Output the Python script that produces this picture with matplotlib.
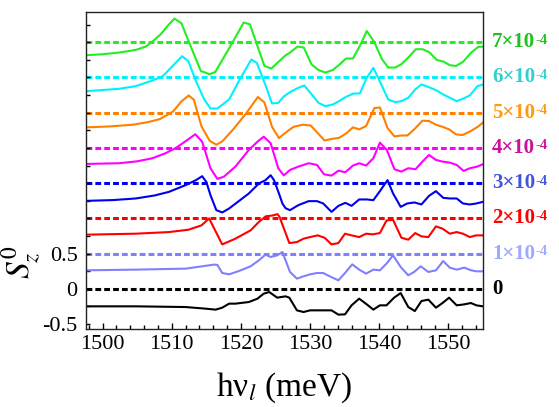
import matplotlib
matplotlib.use("Agg")
import matplotlib.pyplot as plt
from matplotlib.ticker import MultipleLocator, FixedLocator, NullFormatter

plt.rcParams['font.family'] = ['Liberation Serif', 'DejaVu Serif']
plt.rcParams['mathtext.fontset'] = 'stix'

# spectra S_z^0 vs laser energy, one per field value; each curve is shifted up by 0.5
x_0 = [1497.6, 1504.8, 1512.0, 1514.9, 1516.35, 1517.3, 1518.3, 1519.2, 1521.15, 1522.4,
       1523.3, 1524.1, 1525.25, 1526.45, 1527.0, 1528.1, 1529.05, 1530.0, 1531.0, 1532.2,
       1533.1, 1534.1, 1535.05, 1536.0, 1537.1, 1538.2, 1539.15, 1540.1, 1541.05, 1542.15,
       1543.1, 1544.2, 1545.15, 1546.1, 1547.1, 1548.2, 1549.15, 1550.1, 1551.2, 1552.3,
       1553.25, 1554.05, 1555.0]
s_0 = [-0.248, -0.248, -0.258, -0.281, -0.295, -0.267, -0.21, -0.21, -0.187, -0.139,
       -0.068, -0.045, -0.125, -0.106, -0.125, -0.305, -0.329, -0.305, -0.305, -0.305,
       -0.305, -0.366, -0.362, -0.234, -0.139, -0.22, -0.295, -0.234, -0.234, -0.125,
       -0.06, -0.258, -0.315, -0.173, -0.153, -0.267, -0.201, -0.125, -0.234, -0.22,
       -0.201, -0.234, -0.248]

x_1 = [1497.6, 1504.8, 1512.0, 1514.4, 1516.1, 1516.6, 1517.3, 1518.3, 1519.7, 1521.4,
       1522.6, 1523.56, 1524.3, 1525.25, 1526.0, 1527.1, 1528.1, 1529.05, 1530.0, 1531.0,
       1531.9, 1533.05, 1534.1, 1535.05, 1536.1, 1537.1, 1538.1, 1539.15, 1540.1, 1541.05,
       1542.0, 1543.1, 1544.2, 1545.05, 1546.0, 1547.1, 1548.2, 1549.25, 1550.2, 1551.2,
       1552.3, 1553.3, 1554.05, 1555.0]
s_1 = [-0.237, -0.227, -0.213, -0.18, -0.156, -0.16, -0.275, -0.294, -0.247, -0.18,
       -0.095, -0.014, -0.048, -0.024, 0.023, -0.26, -0.355, -0.322, -0.294, -0.275,
       -0.275, -0.332, -0.379, -0.275, -0.152, -0.227, -0.284, -0.227, -0.237, -0.142,
       -0.024, -0.19, -0.308, -0.26, -0.18, -0.26, -0.237, -0.105, -0.199, -0.227,
       -0.199, -0.237, -0.251, -0.251]

x_2 = [1497.6, 1504.8, 1509.6, 1512.4, 1514.3, 1515.4, 1517.3, 1519.2, 1521.4, 1522.6,
       1523.6, 1524.5, 1525.3, 1525.6, 1526.05, 1527.0, 1528.1, 1529.05, 1530.0, 1531.1,
       1532.1, 1533.1, 1534.1, 1535.05, 1536.0, 1537.1, 1538.1, 1539.05, 1540.1, 1541.05,
       1542.0, 1543.2, 1544.2, 1545.2, 1546.1, 1547.1, 1548.2, 1549.15, 1550.2, 1551.2,
       1552.1, 1553.1, 1554.0, 1555.0]
s_2 = [-0.231, -0.217, -0.194, -0.161, -0.099, 0.0, -0.369, -0.288, -0.17, -0.05,
       0.03, 0.04, 0.06, 0.02, -0.1, -0.35, -0.336, -0.288, -0.265, -0.241,
       -0.274, -0.369, -0.35, -0.217, -0.241, -0.265, -0.217, -0.227, -0.208, -0.03,
       -0.02, -0.274, -0.302, -0.208, -0.255, -0.265, -0.113, -0.146, -0.217, -0.194,
       -0.217, -0.265, -0.241, -0.241]

x_3 = [1497.6, 1501.5, 1504.8, 1507.5, 1509.6, 1512.0, 1513.5, 1514.4, 1515.0, 1515.6,
       1516.45, 1517.3, 1518.3, 1521.15, 1522.6, 1523.56, 1524.3, 1524.8, 1525.5, 1526.0,
       1526.45, 1527.1, 1528.3, 1529.8, 1531.0, 1531.9, 1533.1, 1534.1, 1535.1, 1536.0,
       1537.1, 1538.2, 1539.15, 1540.1, 1541.2, 1542.0, 1543.1, 1544.05, 1545.1, 1546.1,
       1547.2, 1548.2, 1549.25, 1550.2, 1551.2, 1552.1, 1553.1, 1554.05, 1555.0]
s_3 = [-0.251, -0.24, -0.217, -0.175, -0.123, -0.028, 0.043, 0.099, 0.018, -0.17,
       -0.383, -0.416, -0.359, -0.146, -0.004, 0.043, 0.113, 0.04, -0.146, -0.288,
       -0.355, -0.383, -0.312, -0.255, -0.255, -0.288, -0.407, -0.322, -0.279, -0.322,
       -0.231, -0.231, -0.241, -0.113, 0.043, -0.146, -0.336, -0.288, -0.274, -0.302,
       -0.18, -0.113, -0.208, -0.217, -0.217, -0.288, -0.302, -0.288, -0.265]

x_4 = [1497.6, 1502.4, 1505.0, 1507.2, 1509.1, 1510.6, 1512.0, 1513.4, 1514.4, 1515.6,
       1516.6, 1517.55, 1519.2, 1521.15, 1522.4, 1523.3, 1524.3, 1525.4, 1526.2, 1527.1,
       1528.3, 1529.8, 1531.0, 1532.0, 1533.1, 1534.1, 1535.1, 1536.2, 1537.1, 1538.1,
       1539.15, 1540.1, 1541.1, 1542.2, 1543.2, 1544.2, 1545.25, 1546.25, 1547.2, 1548.2,
       1549.15, 1550.2, 1551.2, 1552.2, 1553.1, 1554.15, 1555.0]
s_4 = [-0.227, -0.217, -0.19, -0.146, -0.075, 0.0, 0.095, 0.194, 0.089, -0.288,
       -0.44, -0.407, -0.265, -0.028, 0.089, 0.16, 0.067, -0.288, -0.39, -0.312,
       -0.265, -0.217, -0.241, -0.373, -0.393, -0.322, -0.345, -0.25, -0.217, -0.25,
       -0.146, 0.075, -0.028, -0.302, -0.336, -0.288, -0.302, -0.194, -0.099, -0.17,
       -0.194, -0.208, -0.241, -0.326, -0.288, -0.265, -0.231]

x_5 = [1497.6, 1501.0, 1504.4, 1506.5, 1508.3, 1510.2, 1511.4, 1512.45, 1513.2, 1514.3,
       1515.5, 1516.45, 1517.3, 1518.85, 1520.8, 1522.45, 1523.4, 1524.5, 1525.5, 1526.5,
       1527.6, 1529.0, 1530.1, 1531.1, 1532.1, 1533.05, 1534.2, 1535.2, 1536.2, 1537.1,
       1538.1, 1539.3, 1540.1, 1541.2, 1542.2, 1543.15, 1544.1, 1545.2, 1546.25, 1547.2,
       1548.2, 1549.15, 1550.1, 1551.1, 1552.05, 1553.25, 1554.3, 1555.0]
s_5 = [-0.208, -0.195, -0.17, -0.135, -0.09, 0.018, 0.16, 0.245, 0.184, -0.194,
       -0.40, -0.454, -0.407, -0.241, -0.004, 0.223, 0.146, -0.2, -0.36, -0.28,
       -0.2, -0.17, -0.182, -0.288, -0.395, -0.373, -0.357, -0.295, -0.208, -0.236,
       -0.19, 0.066, 0.075, -0.217, -0.336, -0.324, -0.322, -0.222, -0.113, -0.118,
       -0.17, -0.2, -0.236, -0.307, -0.317, -0.26, -0.196, -0.14]

x_6 = [1497.6, 1500.0, 1502.4, 1504.8, 1507.2, 1508.7, 1510.1, 1511.5, 1512.4, 1513.5,
       1514.7, 1515.6, 1516.6, 1518.3, 1519.7, 1521.5, 1522.3, 1523.6, 1524.5, 1525.4,
       1526.2, 1527.1, 1528.1, 1529.15, 1530.25, 1531.2, 1532.2, 1533.3, 1534.2, 1535.2,
       1536.3, 1537.2, 1538.2, 1539.15, 1540.3, 1541.3, 1542.3, 1543.2, 1544.2, 1545.2,
       1546.1, 1547.2, 1548.3, 1549.25, 1550.2, 1551.2, 1552.1, 1553.1, 1554.2, 1555.0]
s_6 = [-0.194, -0.178, -0.16, -0.123, -0.043, 0.018, 0.16, 0.302, 0.231, -0.052,
       -0.312, -0.44, -0.44, -0.312, -0.052, 0.255, 0.208, -0.123, -0.369, -0.359,
       -0.27, -0.208, -0.156, -0.113, -0.241, -0.359, -0.407, -0.383, -0.336, -0.274,
       -0.227, -0.227, -0.004, 0.137, -0.099, -0.312, -0.35, -0.336, -0.288, -0.17,
       -0.099, -0.138, -0.184, -0.241, -0.288, -0.336, -0.302, -0.255, -0.123, -0.099]

x_7 = [1497.6, 1500.0, 1502.4, 1504.8, 1506.25, 1507.2, 1508.4, 1509.6, 1510.4, 1511.4,
       1512.5, 1514.2, 1515.5, 1516.3, 1518.8, 1520.4, 1521.3, 1523.4, 1524.4, 1526.4,
       1527.1, 1528.2, 1529.1, 1530.2, 1531.2, 1532.2, 1533.3, 1534.3, 1535.2, 1536.2,
       1537.2, 1538.2, 1539.3, 1540.4, 1541.3, 1542.3, 1543.2, 1544.2, 1545.3, 1546.3,
       1547.3, 1548.3, 1549.3, 1550.2, 1551.1, 1552.1, 1553.3, 1554.3, 1555.0]
s_7 = [-0.184, -0.17, -0.146, -0.109, -0.061, 0.01, 0.113, 0.255, 0.336, 0.27,
       0.0, -0.407, -0.454, -0.421, 0.0, 0.28, 0.255, -0.336, -0.373, -0.19,
       -0.146, -0.061, -0.075, -0.312, -0.393, -0.43, -0.393, -0.312, -0.231, -0.231,
       -0.052, 0.16, 0.0, -0.241, -0.359, -0.359, -0.312, -0.217, -0.099, -0.099,
       -0.146, -0.251, -0.274, -0.326, -0.336, -0.279, -0.146, -0.067, -0.061]

xs = [x_0, x_1, x_2, x_3, x_4, x_5, x_6, x_7]
spectra = [s_0, s_1, s_2, s_3, s_4, s_5, s_6, s_7]
offsets = [0.0, 0.5, 1.0, 1.5, 2.0, 2.5, 3.0, 3.5]
# field labels: mantissa text and exponent (exponent drawn as a small raised text)
field_base = ['0', '1×10', '2×10', '3×10', '4×10', '5×10', '6×10', '7×10']
field_exp = ['', '-4', '-4', '-4', '-4', '-4', '-4', '-4']

line_colours = ['#000000', '#8080ff', '#ff0000', '#0000ee', '#ff00ff', '#ff8000', '#00f0ff', '#22ee22']
text_colours = ['#000000', '#a0a8ff', '#ff0000', '#4455dd', '#cc1099', '#ff9a10', '#30d0d0', '#20c020']

fig = plt.figure(figsize=(5.59, 4.07), dpi=100)
ax = fig.add_axes([0.1538, 0.1916, 0.7102, 0.779])

for x, s, off, lc, tc, base, ex in zip(xs, spectra, offsets, line_colours, text_colours,
                                        field_base, field_exp):
    ax.axhline(off, color=lc, lw=2.2, ls=(0, (1.9, 1.0)), zorder=1)
    ax.plot(x, [v + off for v in s], color=lc, lw=1.5, zorder=2)
    t = ax.text(1.023, off, base, color=tc, fontsize=15, fontweight='bold',
                transform=ax.get_yaxis_transform(), va='center', ha='left')
    if ex:
        ax.annotate(ex, xy=(1, 1), xycoords=t, xytext=(0.5, -1.0), textcoords='offset points',
                    color=tc, fontsize=10.5, fontweight='bold', va='top', ha='left')

ax.set_xlim(1497.6, 1555.0)
ax.set_ylim(-0.57, 3.93)

ax.xaxis.set_major_locator(MultipleLocator(10))
ax.xaxis.set_minor_locator(MultipleLocator(2))
ax.yaxis.set_major_locator(FixedLocator([-0.5, 0, 0.5]))
ax.yaxis.set_minor_locator(FixedLocator([-0.25, 0.25] + [0.75 + 0.25 * i for i in range(13)]))
ax.yaxis.set_major_formatter(lambda v, p: f'{v:g}')
ax.yaxis.set_minor_formatter(NullFormatter())

ax.tick_params(axis='both', which='both', direction='in', top=False, right=False,
               labelsize=16, width=1.0)
ax.tick_params(axis='x', which='major', length=4.5, pad=4)
ax.tick_params(axis='x', which='minor', length=3)
ax.tick_params(axis='y', which='both', length=3, pad=6)

for sp in ax.spines.values():
    sp.set_linewidth(1.0)
    sp.set_color('#222222')

ax.set_xlabel('hν$_{\\mathit{l}}$ (meV)', fontsize=24, labelpad=12)
ax.set_ylabel('$S_z^0$', fontsize=24, rotation=90)
ax.yaxis.set_label_coords(-0.11, 0.21)

fig.savefig('out.png', dpi=100)
